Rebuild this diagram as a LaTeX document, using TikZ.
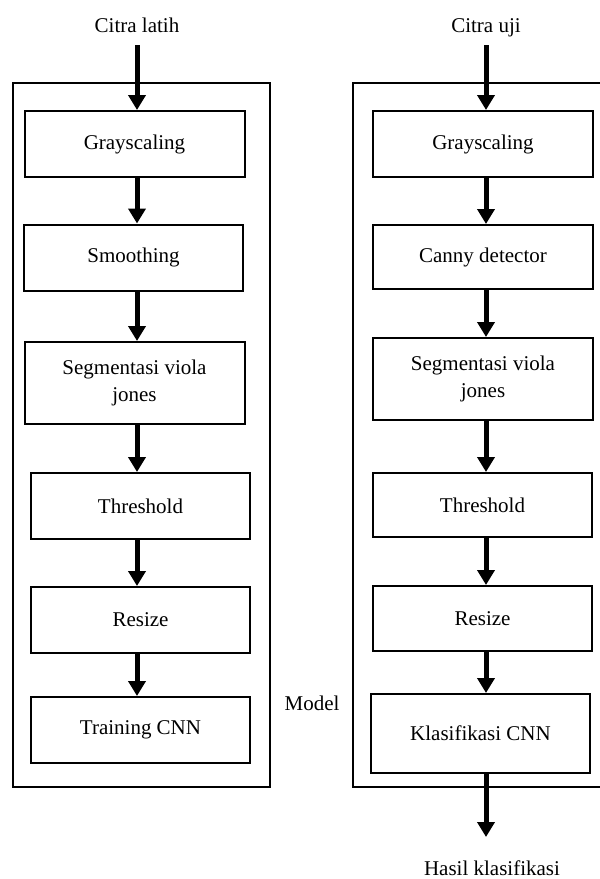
\documentclass[tikz,border=0pt]{standalone}
\usepackage{fontspec}
\setmainfont{Liberation Serif}
\usetikzlibrary{calc}
\usetikzlibrary{positioning}
\usetikzlibrary{arrows.meta}

\begin{document}
\begin{tikzpicture}[%
  x=0.5pt, y=-0.5pt,
  >={Triangle[width=8.5pt, length=7.5pt]},
  stage/.style={draw, line width=1pt, minimum width=110pt, minimum height=33pt,
    align=center, font=\fontsize{10.5}{13.5}\selectfont, inner sep=0pt},
  frame/.style={draw, line width=0.9pt},
  flow/.style={->, line width=2.5pt},
  label/.style={font=\fontsize{10.5}{13.5}\selectfont, inner sep=0pt, anchor=base},
]
  \useasboundingbox (0,0) rectangle (600,879);

  % frames
  \draw[frame] (13,83) rectangle (270,787);
  \draw[frame] (353,83) rectangle (640,787);

  % training column
  \node[label] (inL) at (137,32) {Citra latih};
  \coordinate (topL) at (137,45);
  \node[stage] (gL) at (134.5,144) {Grayscaling};
  \node[stage, minimum width=109.5pt] (sL) at (133.5,257.5) {Smoothing};
  \node[stage, minimum height=41pt] (vL) at (134.5,383) {Segmentasi viola\\jones};
  \node[stage, minimum width=109.5pt] (tL) at (140.5,506) {Threshold};
  \node[stage, minimum width=109.5pt] (rL) at (140.5,620) {Resize};
  \node[stage, minimum width=109.5pt] (cL) at (140.5,730) {Training CNN};

  \draw[flow] (topL) -- (gL.north -| topL);
  \draw[flow] (gL.south -| topL) -- (sL.north -| topL);
  \draw[flow] (sL.south -| topL) -- (vL.north -| topL);
  \draw[flow] (vL.south -| topL) -- (tL.north -| topL);
  \draw[flow] (tL.south -| topL) -- (rL.north -| topL);
  \draw[flow] (rL.south -| topL) -- (cL.north -| topL);

  \node[label] (model) at (312,710) {Model};

  % testing column
  \node[label] (inR) at (486,32) {Citra uji};
  \coordinate (topR) at (486,45);
  \node[stage] (gR) at (483,144) {Grayscaling};
  \node[stage, minimum height=32pt] (kR) at (483,257) {Canny detector};
  \node[stage, minimum height=41pt] (vR) at (483,379) {Segmentasi viola\\jones};
  \node[stage, minimum width=109.5pt, minimum height=32pt] (tR) at (482.5,505) {Threshold};
  \node[stage, minimum width=109.5pt, minimum height=32.5pt] (rR) at (482.5,618.5) {Resize};
  \node[stage, minimum width=109.5pt, minimum height=39.5pt] (cR) at (480.5,733.5) {Klasifikasi CNN};
  \node[label] (outR) at (492,875) {Hasil klasifikasi};
  \coordinate (endR) at (486,837);

  \draw[flow] (topR) -- (gR.north -| topR);
  \draw[flow] (gR.south -| topR) -- (kR.north -| topR);
  \draw[flow] (kR.south -| topR) -- (vR.north -| topR);
  \draw[flow] (vR.south -| topR) -- (tR.north -| topR);
  \draw[flow] (tR.south -| topR) -- (rR.north -| topR);
  \draw[flow] (rR.south -| topR) -- (cR.north -| topR);
  \draw[flow] (cR.south -| topR) -- (endR);

\end{tikzpicture}
\end{document}
